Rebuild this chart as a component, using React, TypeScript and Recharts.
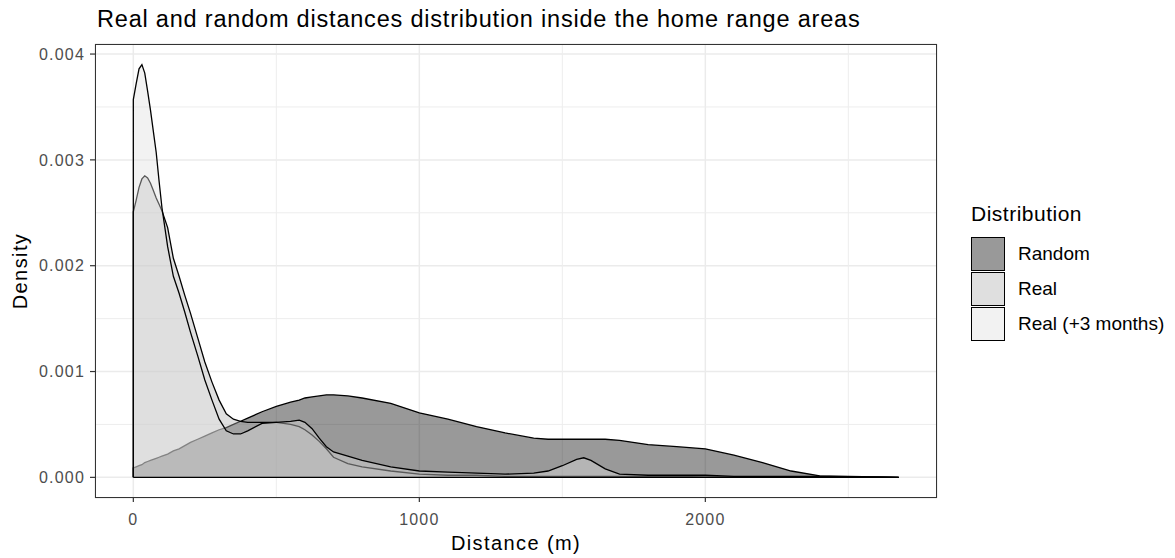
import React from 'react';
import {
  AreaChart,
  Area,
  XAxis,
  YAxis,
  CartesianGrid,
  ReferenceLine,
  Label
} from 'recharts';

// distance grid (m); the leading duplicate 0 lets each outline rise vertically at the origin
const distances = [
  0, 0, 10, 20, 30, 40, 50, 60, 70, 80, 90, 100, 120, 140, 160, 180, 200, 225, 250, 275,
  300, 325, 350, 375, 400, 450, 500, 550, 580, 600, 625, 650, 675, 700, 750, 800, 900, 1000,
  1100, 1200, 1300, 1400, 1450, 1500, 1550, 1575, 1600, 1650, 1700, 1800, 1900, 2000, 2100,
  2200, 2300, 2400, 2500, 2600, 2676
];

const randomDensity = [
  0, 0.00009, 0.0001, 0.00011, 0.00012, 0.00014, 0.00015, 0.00016, 0.00017, 0.00018, 0.00019,
  0.0002, 0.00022, 0.00025, 0.00027, 0.0003, 0.00033, 0.00036, 0.00039, 0.00042, 0.00045,
  0.00047, 0.0005, 0.00053, 0.00056, 0.00062, 0.00067, 0.00071, 0.00073, 0.00075, 0.00076,
  0.00077, 0.00078, 0.00078, 0.00077, 0.00075, 0.0007, 0.00061, 0.00055, 0.00048, 0.00042,
  0.00037, 0.00036, 0.00036, 0.00036, 0.00036, 0.00036, 0.00036, 0.00035, 0.00031, 0.00029,
  0.00027, 0.00021, 0.00014, 0.00006, 0.000015, 0.000006, 0.000004, 0
];

const realDensity = [
  0, 0.00251, 0.00262, 0.00274, 0.00282, 0.00285, 0.00283, 0.00278, 0.00271, 0.00264, 0.00258,
  0.00252, 0.00236, 0.00207, 0.0019, 0.00172, 0.00155, 0.00132, 0.00109, 0.0009, 0.00073,
  0.0006, 0.00055, 0.00053, 0.00052, 0.00052, 0.00052, 0.0005, 0.00048, 0.00045, 0.0004,
  0.00034, 0.00027, 0.00019, 0.00013, 0.0001, 0.00006, 0.00003, 0.00002, 0.00002, 0.00001,
  0.00001, 0.00001, 0.00001, 0.00001, 0.00001, 0.00001, 0.00001, 0.00001, 0.00001, 0.00001,
  0.000005, 0.000005, 0.000003, 0.000003, 0.000002, 0.000002, 0.000001, 0
];

const realPlus3Density = [
  0, 0.00357, 0.00372, 0.00386, 0.0039, 0.00382, 0.00365, 0.00347, 0.00327, 0.00307, 0.0028,
  0.00255, 0.00218, 0.0019, 0.00174, 0.00156, 0.00137, 0.00115, 0.00092, 0.00073, 0.00055,
  0.00044, 0.00041, 0.00041, 0.00044, 0.00051, 0.00052, 0.00053, 0.00054, 0.00052, 0.00046,
  0.00037, 0.00029, 0.00024, 0.0002, 0.00016, 0.0001, 0.00006, 0.00005, 0.00004, 0.00003,
  0.00004, 0.00006, 0.00011, 0.00017, 0.000185, 0.00016, 0.00008, 0.00003, 0.00002, 0.00002,
  0.00002, 0.00001, 0.00001, 0.00001, 0.00001, 0.00001, 0.000005, 0
];

const seriesKeys = ['random', 'real', 'realPlus3'];
const seriesNames = ['Random', 'Real', 'Real (+3 months)'];
const seriesFills = ['#000000', '#afafaf', '#dedede'];
const fillAlpha = 0.4;

const xTicks = [0, 1000, 2000];
const xMinor = [500, 1500, 2500];
const yTicks = [0, 0.001, 0.002, 0.003, 0.004];
const yMinor = [0.0005, 0.0015, 0.0025, 0.0035];

const data = distances.map((d, i) => ({
  distance: d,
  random: randomDensity[i],
  real: realDensity[i],
  realPlus3: realPlus3Density[i]
}));

const FONT = '"Liberation Sans", Arial, sans-serif';

const W = 1175;
const H = 558;
const PANEL = { left: 95, top: 44, right: 937, bottom: 498 };

const hexToRgba = (hex: string, a: number) => {
  const n = parseInt(hex.slice(1), 16);
  return `rgba(${(n >> 16) & 255}, ${(n >> 8) & 255}, ${n & 255}, ${a})`;
};

function DensityTitle({ viewBox }: any) {
  const cx = 20;
  const cy = viewBox.y + viewBox.height / 2;
  return (
    <text
      x={cx}
      y={cy}
      transform={`rotate(-90, ${cx}, ${cy})`}
      textAnchor="middle"
      dominantBaseline="central"
      fontSize={20}
      letterSpacing={1.4}
      fill="#000"
      fontFamily={FONT}
    >
      Density
    </text>
  );
}

export default function App() {
  return (
    <div
      style={{
        position: 'absolute',
        left: 0,
        top: 0,
        width: W,
        height: H,
        background: '#fff',
        fontFamily: FONT
      }}
    >
      <div
        style={{
          position: 'absolute',
          left: 97,
          top: 8,
          fontSize: 23.5,
          lineHeight: '23.5px',
          letterSpacing: 0.8,
          color: '#000',
          whiteSpace: 'nowrap'
        }}
      >
        Real and random distances distribution inside the home range areas
      </div>

      <AreaChart
        width={W}
        height={H}
        data={data}
        margin={{ top: PANEL.top, right: W - PANEL.right, bottom: 0, left: 0 }}
        style={{ position: 'absolute', left: 0, top: 0 }}
      >
        <CartesianGrid stroke="#ebebeb" strokeWidth={1.5} />
        <CartesianGrid
          stroke="#ededed"
          strokeWidth={1}
          verticalValues={xMinor}
          horizontalValues={yMinor}
        />
        <XAxis
          dataKey="distance"
          type="number"
          domain={[-134, 2810]}
          ticks={xTicks}
          allowDataOverflow
          height={H - PANEL.bottom}
          axisLine={false}
          tickSize={4}
          tickMargin={12}
          tickLine={{ stroke: '#333', strokeWidth: 1.2 }}
          tick={{ fill: '#4d4d4d', fontSize: 16, fontFamily: FONT, letterSpacing: 1.2 }}
        >
          <Label
            value="Distance (m)"
            position="insideBottom"
            offset={8}
            fill="#000"
            fontSize={20}
            letterSpacing={1.4}
            fontFamily={FONT}
          />
        </XAxis>
        <YAxis
          type="number"
          domain={[-0.000195, 0.004095]}
          ticks={yTicks}
          allowDataOverflow
          width={PANEL.left}
          axisLine={false}
          tickSize={5}
          tickMargin={5}
          tickLine={{ stroke: '#333', strokeWidth: 1.2 }}
          tick={{ fill: '#4d4d4d', fontSize: 16, fontFamily: FONT, letterSpacing: 1.2 }}
          tickFormatter={(v: number) => v.toFixed(3)}
        >
          <Label content={<DensityTitle />} />
        </YAxis>
        {seriesKeys.map((key, i) => (
          <Area
            key={key}
            dataKey={key}
            name={seriesNames[i]}
            type="linear"
            fill={seriesFills[i]}
            fillOpacity={fillAlpha}
            stroke="#000"
            strokeWidth={1.3}
            dot={false}
            activeDot={false}
            isAnimationActive={false}
          />
        ))}
        <ReferenceLine
          segment={[
            { x: distances[0], y: 0 },
            { x: distances[distances.length - 1], y: 0 }
          ]}
          stroke="#000"
          strokeWidth={1.3}
        />
      </AreaChart>

      {/* panel border */}
      <div
        style={{
          position: 'absolute',
          left: PANEL.left,
          top: PANEL.top,
          width: PANEL.right - PANEL.left,
          height: PANEL.bottom - PANEL.top,
          border: '1px solid #333',
          boxSizing: 'border-box',
          pointerEvents: 'none'
        }}
      />

      {/* legend */}
      <div style={{ position: 'absolute', left: 971, top: 203 }}>
        <div style={{ fontSize: 21, lineHeight: '22px', letterSpacing: 0.5, color: '#000' }}>
          Distribution
        </div>
        <div style={{ marginTop: 11 }}>
          {seriesNames.map((name, i) => (
            <div key={name} style={{ display: 'flex', alignItems: 'center', height: 35 }}>
              <div
                style={{
                  width: 34,
                  height: 34,
                  boxSizing: 'border-box',
                  border: '1.5px solid #000',
                  background: hexToRgba(seriesFills[i], fillAlpha)
                }}
              />
              <span
                style={{
                  marginLeft: 13,
                  fontSize: 19,
                  color: '#000',
                  whiteSpace: 'nowrap'
                }}
              >
                {name}
              </span>
            </div>
          ))}
        </div>
      </div>
    </div>
  );
}
